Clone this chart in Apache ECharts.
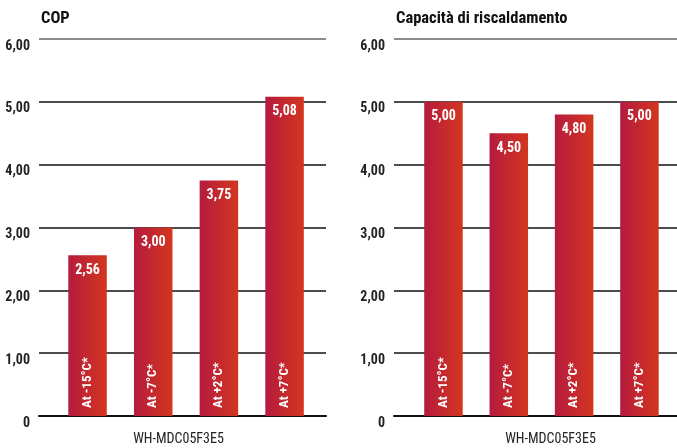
<!DOCTYPE html>
<html>
<head>
<meta charset="utf-8">
<script src="https://cdn.jsdelivr.net/npm/echarts@6/dist/echarts.min.js"></script>
<style>
  html, body { margin: 0; padding: 0; background: #fff; }
  #chart { width: 677px; height: 448px; }
</style>
</head>
<body>
<div id="chart"></div>
<script>
// Test conditions (outdoor temperature) shared by both panels
const categories = ['At -15°C*', 'At -7°C*', 'At +2°C*', 'At +7°C*'];
// COP per condition
const copValues = [2.56, 3.00, 3.75, 5.08];
// Heating capacity per condition
const capacityValues = [5.00, 4.50, 4.80, 5.00];
// Panel titles and model name
const panelTitles = ['COP', 'Capacità di riscaldamento'];
const modelName = 'WH-MDC05F3E5';
// Value axis range
const yMin = 0, yMax = 6, yStep = 1;

const FONT = "'Roboto Condensed', 'Open Sans Condensed', 'DejaVu Sans Condensed', sans-serif";
const fmt = v => (v === 0 ? '0' : v.toFixed(2).replace('.', ','));

const barColor = new echarts.graphic.LinearGradient(0, 0, 1, 0, [
  { offset: 0, color: '#b51b3e' },
  { offset: 1, color: '#d3361f' }
]);

const chart = echarts.init(document.getElementById('chart'), null, { renderer: 'canvas' });

// Each panel: a "frame" grid (gridlines + labels) and a slightly inset grid for the bars
const panels = [
  { values: copValues, frame: { left: 39, width: 287 }, bars: { left: 54.7, width: 262.7 }, nameX: 173.5 },
  { values: capacityValues, frame: { left: 394, width: 283 }, bars: { left: 410.8, width: 261.3 }, nameX: 545.5 }
];

const grids = [], xAxes = [], yAxes = [], series = [], titles = [];
panels.forEach((p, i) => {
  const fi = grids.length;
  grids.push({ left: p.frame.left, width: p.frame.width, top: 39, height: 377 });
  const bi = grids.length;
  grids.push({ left: p.bars.left, width: p.bars.width, top: 39, height: 377 });

  xAxes.push({
    gridIndex: fi, type: 'category', data: categories,
    axisLine: { show: true, lineStyle: { color: '#111', width: 2 } },
    axisTick: { show: false }, axisLabel: { show: false }
  });
  xAxes.push({
    gridIndex: bi, type: 'category', data: categories,
    axisLine: { show: false }, axisTick: { show: false }, axisLabel: { show: false }
  });

  yAxes.push({
    gridIndex: fi, type: 'value', min: yMin, max: yMax, interval: yStep,
    axisLine: { show: false }, axisTick: { show: false },
    axisLabel: {
      formatter: fmt, color: '#222', fontFamily: FONT, fontWeight: 'bold',
      fontSize: 14, margin: 9, verticalAlign: 'top'
    },
    splitLine: {
      lineStyle: { color: ['#111', '#111', '#111', '#111', '#111', '#111', '#666'], width: 1.5 }
    }
  });
  yAxes.push({
    gridIndex: bi, type: 'value', min: yMin, max: yMax, interval: yStep, show: false,
    splitLine: { show: false }
  });

  const yIdx = yAxes.length - 1, xIdx = xAxes.length - 1;
  series.push({
    type: 'bar', xAxisIndex: xIdx, yAxisIndex: yIdx, data: p.values,
    barWidth: 38.5, itemStyle: { color: barColor },
    label: {
      show: true, position: 'insideTop', distance: 8, formatter: d => fmt(d.value),
      color: '#fff', fontFamily: FONT, fontWeight: 'bold', fontSize: 14
    },
    z: 3
  });
  series.push({
    type: 'bar', xAxisIndex: xIdx, yAxisIndex: yIdx, data: p.values,
    barWidth: 38.5, barGap: '-100%', itemStyle: { color: 'transparent' },
    label: {
      show: true, position: 'insideBottom', rotate: 90, align: 'left', verticalAlign: 'middle',
      distance: 8, formatter: d => d.name,
      color: '#fff', fontFamily: FONT, fontWeight: 'bold', fontSize: 13
    },
    z: 4
  });

  titles.push({
    text: panelTitles[i], left: p.frame.left - 3, top: 5,
    textStyle: { fontFamily: FONT, fontWeight: 'bold', fontSize: 16.5, color: '#111' }
  });
  titles.push({
    text: modelName, left: p.nameX, top: 427, textAlign: 'center',
    textStyle: { fontFamily: FONT, fontWeight: 'normal', fontSize: 14, color: '#222' }
  });
});

chart.setOption({
  animation: false,
  backgroundColor: '#fff',
  title: titles,
  grid: grids,
  xAxis: xAxes,
  yAxis: yAxes,
  series: series
});
</script>
</body>
</html>
